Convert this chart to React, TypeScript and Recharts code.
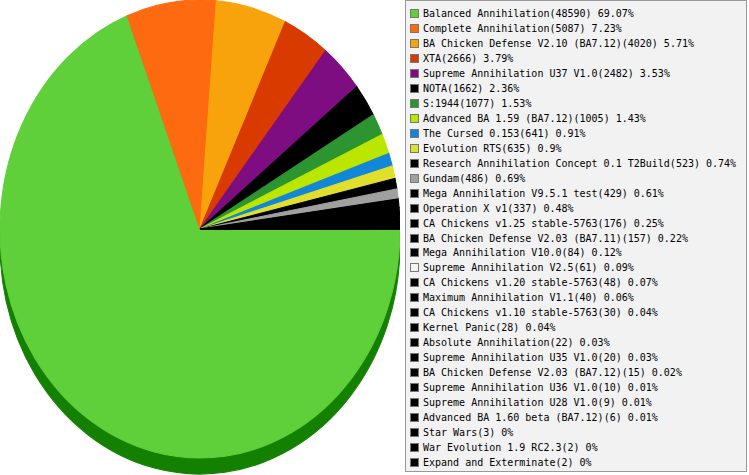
import React from "react";
import { PieChart, Pie, Cell } from "recharts";

const names = [
  "Balanced Annihilation",
  "Complete Annihilation",
  "BA Chicken Defense V2.10 (BA7.12)",
  "XTA",
  "Supreme Annihilation U37 V1.0",
  "NOTA",
  "S:1944",
  "Advanced BA 1.59 (BA7.12)",
  "The Cursed 0.153",
  "Evolution RTS",
  "Research Annihilation Concept 0.1 T2Build",
  "Gundam",
  "Mega Annihilation V9.5.1 test",
  "Operation X v1",
  "CA Chickens v1.25 stable-5763",
  "BA Chicken Defense V2.03 (BA7.11)",
  "Mega Annihilation V10.0",
  "Supreme Annihilation V2.5",
  "CA Chickens v1.20 stable-5763",
  "Maximum Annihilation V1.1",
  "CA Chickens v1.10 stable-5763",
  "Kernel Panic",
  "Absolute Annihilation",
  "Supreme Annihilation U35 V1.0",
  "BA Chicken Defense V2.03 (BA7.12)",
  "Supreme Annihilation U36 V1.0",
  "Supreme Annihilation U28 V1.0",
  "Advanced BA 1.60 beta (BA7.12)",
  "Star Wars",
  "War Evolution 1.9 RC2.3",
  "Expand and Exterminate",
];

const counts = [
  48590, 5087, 4020, 2666, 2482, 1662, 1077, 1005, 641, 635, 523, 486, 429,
  337, 176, 157, 84, 61, 48, 40, 30, 28, 22, 20, 15, 10, 9, 6, 3, 2, 2,
];

const percents = [
  "69.07", "7.23", "5.71", "3.79", "3.53", "2.36", "1.53", "1.43", "0.91",
  "0.9", "0.74", "0.69", "0.61", "0.48", "0.25", "0.22", "0.12", "0.09",
  "0.07", "0.06", "0.04", "0.04", "0.03", "0.03", "0.02", "0.01", "0.01",
  "0.01", "0", "0", "0",
];

const colors = [
  "#5fcf3a", "#fd6a10", "#f8a30b", "#d93a00", "#7e0d82", "#000000",
  "#2c9431", "#bbe600", "#1286d8", "#e0df2c", "#000000", "#a0a0a0",
  "#000000", "#000000", "#000000", "#000000", "#000000", "#f4f4f4",
  "#000000", "#000000", "#000000", "#000000", "#000000", "#000000",
  "#000000", "#000000", "#000000", "#000000", "#000000", "#000000",
  "#000000",
];

// the tiny pale slice doesn't show up in the pie itself
const sliceColor = (i: number) => (i === 17 ? "#000000" : colors[i]);

const data = names.map((name, i) => ({ name, value: counts[i] }));

const FONT = '"DejaVu Sans Mono", "Liberation Mono", monospace';

export default function App() {
  return (
    <div
      style={{
        position: "absolute",
        left: 0,
        top: 0,
        width: 749,
        height: 475,
        background: "#fff",
        overflow: "hidden",
      }}
    >
      <div
        style={{
          position: "absolute",
          left: 0,
          top: 0,
          transform: `scaleY(${229 / 200})`,
          transformOrigin: "0 0",
        }}
      >
        <PieChart
          width={400}
          height={415}
          margin={{ top: 0, right: 0, bottom: 0, left: 0 }}
        >
          {/* depth of the 3d pie */}
          <Pie
            data={data}
            dataKey="value"
            cx={200}
            cy={214}
            outerRadius={200}
            startAngle={0}
            endAngle={-360}
            isAnimationActive={false}
          >
            {data.map((d) => (
              <Cell key={d.name} fill="#138000" stroke="#138000" strokeWidth={1} />
            ))}
          </Pie>
          <Pie
            data={data}
            dataKey="value"
            cx={200}
            cy={200}
            outerRadius={200}
            startAngle={0}
            endAngle={-360}
            isAnimationActive={false}
          >
            {data.map((d, i) => (
              <Cell
                key={d.name}
                fill={sliceColor(i)}
                stroke={sliceColor(i)}
                strokeWidth={1}
              />
            ))}
          </Pie>
        </PieChart>
      </div>

      <div
        style={{
          position: "absolute",
          left: 405,
          top: 0,
          width: 342,
          height: 472,
          background: "#f2f2f2",
          border: "1px solid #999",
          boxSizing: "border-box",
          paddingTop: 5,
          fontFamily: FONT,
          fontSize: 10,
          color: "#000",
        }}
      >
        {names.map((name, i) => (
          <div
            key={name}
            style={{
              height: 14.97,
              display: "flex",
              alignItems: "center",
              whiteSpace: "nowrap",
            }}
          >
            <span
              style={{
                display: "inline-block",
                width: 7,
                height: 7,
                marginLeft: 4,
                marginRight: 4,
                background: colors[i],
                border: "1px solid #777",
              }}
            />
            <span>
              {name}({counts[i]}) {percents[i]}%
            </span>
          </div>
        ))}
      </div>
    </div>
  );
}
